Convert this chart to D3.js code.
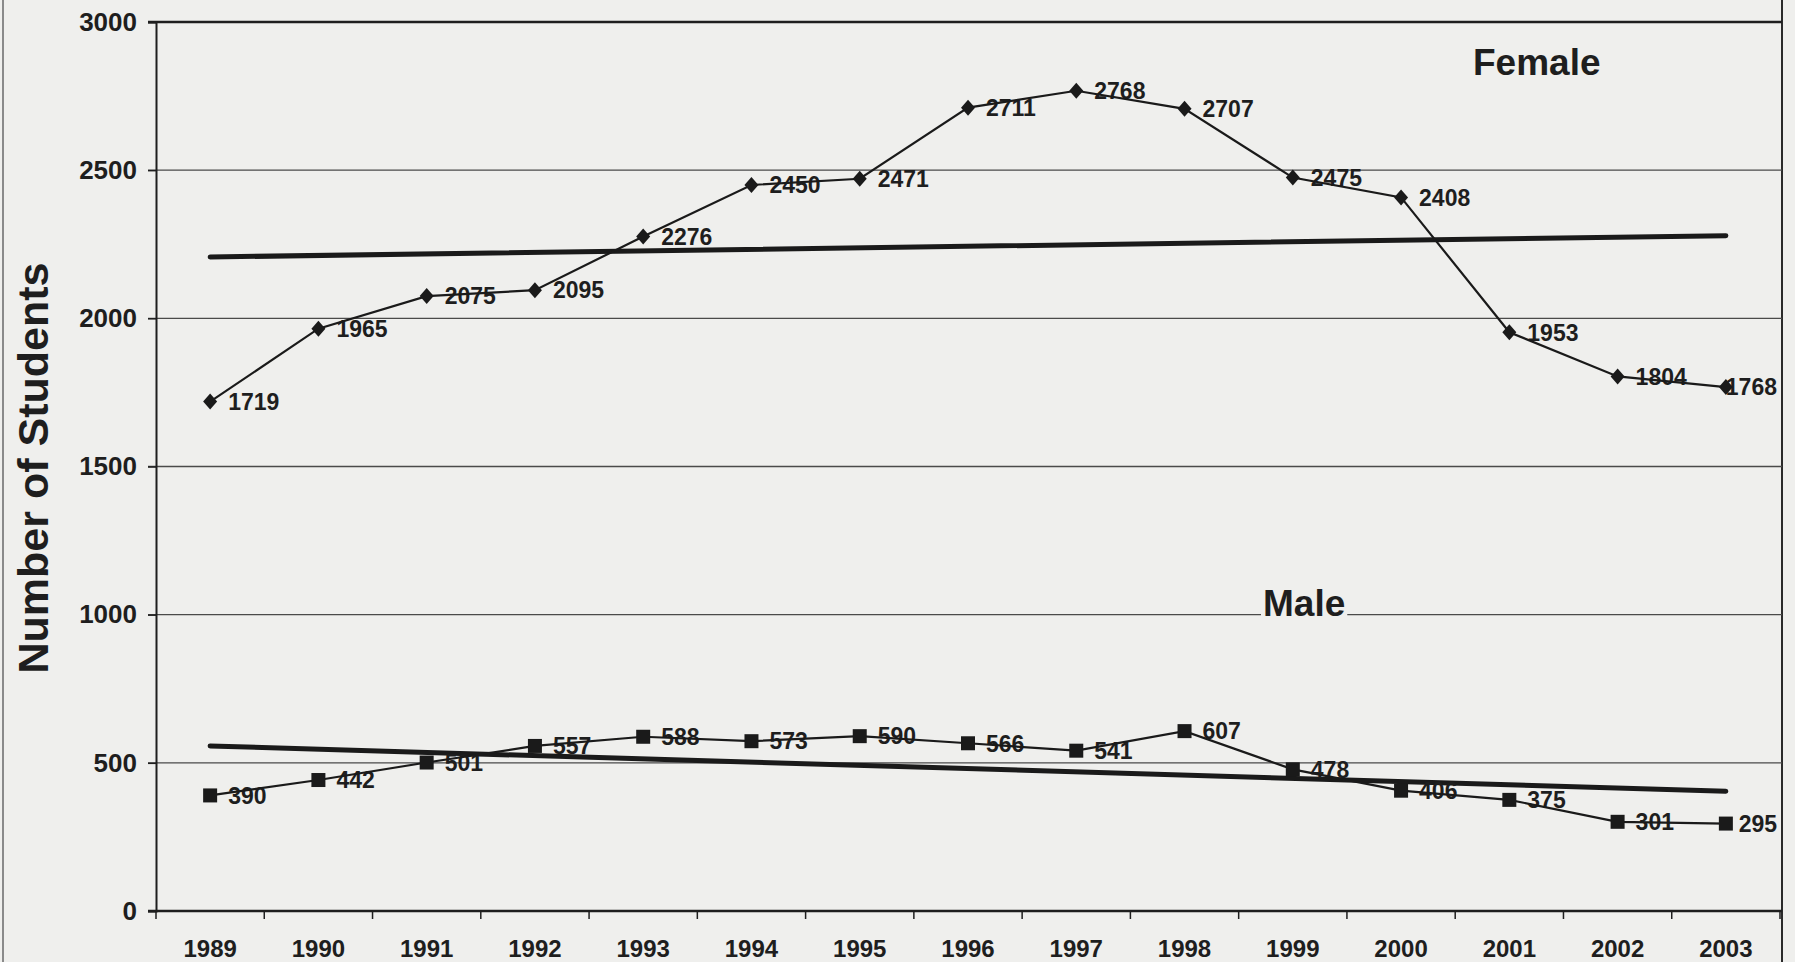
<!DOCTYPE html>
<html>
<head>
<meta charset="utf-8">
<script src="https://cdn.jsdelivr.net/npm/d3@7"></script>
<style>
  html, body { margin: 0; padding: 0; background: #efefed; }
  svg { display: block; }
  text { font-family: "Liberation Sans", Arial, Helvetica, sans-serif; font-weight: bold; fill: #1e1e1e; }
</style>
</head>
<body>
<svg id="chart" width="1795" height="962"></svg>
<script>
// ---- data ----
const years = ["1989","1990","1991","1992","1993","1994","1995","1996","1997","1998","1999","2000","2001","2002","2003"];
const female = [1719,1965,2075,2095,2276,2450,2471,2711,2768,2707,2475,2408,1953,1804,1768];
const male   = [390,442,501,557,588,573,590,566,541,607,478,406,375,301,295];
// linear trendlines (values at first and last year)
const femaleTrend = [2207, 2279];
const maleTrend   = [557, 404];
const yTicks = [0,500,1000,1500,2000,2500,3000];
const seriesNames = ["Female","Male"];

// ---- layout ----
const W = 1795, H = 962;
const pLeft = 156, pRight = 1780, pTop = 22, pBottom = 911;
const svg = d3.select("#chart");

const x = d3.scaleBand().domain(years).range([pLeft, pRight]).padding(0);
const y = d3.scaleLinear().domain([0, 3000]).range([pBottom, pTop]);
const cx = d => x(d) + x.bandwidth() / 2;

// frame lines
svg.append("line").attr("x1", 3).attr("x2", 3).attr("y1", 0).attr("y2", H)
  .attr("stroke", "#8a8a8a").attr("stroke-width", 2);
svg.append("line").attr("x1", pRight + 2).attr("x2", pRight + 2).attr("y1", 0).attr("y2", H)
  .attr("stroke", "#2a2a2a").attr("stroke-width", 2);

// gridlines
svg.append("g").selectAll("line").data(yTicks.filter(t => t > 0)).join("line")
  .attr("x1", pLeft - 8).attr("x2", pRight + 2)
  .attr("y1", d => y(d)).attr("y2", d => y(d))
  .attr("stroke", d => d === 3000 ? "#1e1e1e" : "#4a4a4a")
  .attr("stroke-width", d => d === 3000 ? 2.5 : 1.4);

// y axis
const yAxis = svg.append("g").attr("transform", `translate(${pLeft},0)`)
  .call(d3.axisLeft(y).tickValues(yTicks).tickSize(8).tickPadding(11).tickFormat(d3.format("d")));
yAxis.select(".domain").attr("stroke", "#1e1e1e").attr("stroke-width", 2);
yAxis.selectAll(".tick line").attr("stroke", "#1e1e1e").attr("stroke-width", 1.5);
yAxis.selectAll(".tick text").style("font-size", "26px").attr("fill", "#1e1e1e")
  .style("font-family", "'Liberation Sans', Arial, sans-serif").style("font-weight", "bold");

// x axis (ticks at category boundaries)
const xAxisG = svg.append("g").attr("transform", `translate(0,${pBottom})`);
xAxisG.append("line").attr("x1", pLeft - 8).attr("x2", pRight + 2).attr("y1", 0).attr("y2", 0)
  .attr("stroke", "#1e1e1e").attr("stroke-width", 2.5);
xAxisG.selectAll("line.tk").data(years.concat(["end"])).join("line").attr("class", "tk")
  .attr("x1", (d, i) => i < years.length ? x(d) : pRight)
  .attr("x2", (d, i) => i < years.length ? x(d) : pRight)
  .attr("y1", 0).attr("y2", 8).attr("stroke", "#1e1e1e").attr("stroke-width", 1.5);
xAxisG.selectAll("text").data(years).join("text")
  .attr("x", d => cx(d)).attr("y", 46).attr("text-anchor", "middle")
  .style("font-size", "24px").text(d => d);

// y-axis title
svg.append("text").attr("transform", `translate(48,468) rotate(-90)`)
  .attr("text-anchor", "middle").style("font-size", "43px").text("Number of Students");

// trendlines
const trendLine = (vals) => svg.append("line")
  .attr("x1", cx(years[0])).attr("y1", y(vals[0]))
  .attr("x2", cx(years[years.length - 1])).attr("y2", y(vals[1]))
  .attr("stroke", "#1a1a1a").attr("stroke-width", 5).attr("stroke-linecap", "round");

// series
function drawSeries(vals, marker) {
  const pts = years.map((yr, i) => ({ yr, v: vals[i] }));
  const g = svg.append("g");
  g.selectAll("text").data(pts).join("text")
    .attr("y", d => y(d.v)).attr("dy", "0.36em")
    .style("font-size", "23px").text(d => d.v)
    .each(function(d) {
      const w = this.getComputedTextLength();
      const xx = Math.min(cx(d.yr) + 18, pRight - 3 - w);
      d3.select(this).attr("x", xx);
    });
  svg.append("path").datum(pts)
    .attr("d", d3.line().x(d => cx(d.yr)).y(d => y(d.v)))
    .attr("fill", "none").attr("stroke", "#1a1a1a").attr("stroke-width", 2.2);
  const mg = svg.append("g");
  if (marker === "diamond") {
    mg.selectAll("path").data(pts).join("path")
      .attr("transform", d => `translate(${cx(d.yr)},${y(d.v)})`)
      .attr("d", "M0,-8L7,0L0,8L-7,0Z").attr("fill", "#1a1a1a");
  } else {
    mg.selectAll("rect").data(pts).join("rect")
      .attr("x", d => cx(d.yr) - 7).attr("y", d => y(d.v) - 7)
      .attr("width", 14).attr("height", 14).attr("fill", "#1a1a1a");
  }
}

trendLine(femaleTrend);
trendLine(maleTrend);
drawSeries(female, "diamond");
drawSeries(male, "square");

// series name labels
svg.append("text").attr("x", 1473).attr("y", 75).style("font-size", "37px").text(seriesNames[0]);
const maleT = svg.append("text").attr("x", 1263).attr("y", 616).style("font-size", "37px").text(seriesNames[1]);
const bb = maleT.node().getBBox();
svg.insert("rect", () => maleT.node())
  .attr("x", bb.x - 2).attr("y", bb.y + 4).attr("width", bb.width + 4).attr("height", bb.height - 6)
  .attr("fill", "#efefed");
</script>
</body>
</html>
